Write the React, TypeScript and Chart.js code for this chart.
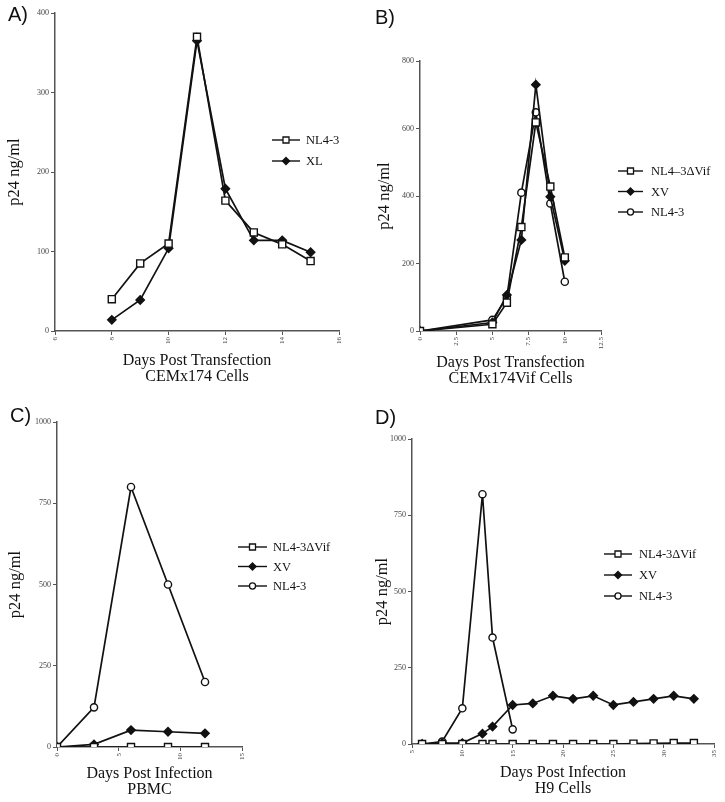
import React, { useEffect, useRef } from 'react';
import { Chart, registerables } from 'chart.js';
Chart.register(...registerables);

// ---------- Panel A ----------
const aDays = [8, 9, 10, 11, 12, 13, 14, 15];
const aNL43 = [40, 85, 110, 370, 164, 124, 109, 88];
const aXL = [14, 39, 104, 365, 179, 114, 114, 99];
const aXTicks = [6, 8, 10, 12, 14, 16];
const aYTicks = [0, 100, 200, 300, 400];

// ---------- Panel B ----------
const bDays = [0, 5, 6, 7, 8, 9, 10];
const bDVif = [0, 20, 84, 308, 618, 428, 218];
const bXV = [0, 25, 107, 270, 730, 398, 208];
const bNL43 = [0, 33, 100, 410, 648, 378, 146];
const bXTicks = [0, 2.5, 5, 7.5, 10, 12.5];
const bYTicks = [0, 200, 400, 600, 800];

// ---------- Panel C ----------
const cDays = [0, 3, 6, 9, 12];
const cDVif = [0, 0, 0, 0, 0];
const cXV = [0, 8, 52, 47, 42];
const cNL43 = [0, 122, 800, 500, 200];
const cXTicks = [0, 5, 10, 15];
const cYTicks = [0, 250, 500, 750, 1000];

// ---------- Panel D ----------
const dDays = [6, 8, 10, 12, 13, 15, 17, 19, 21, 23, 25, 27, 29, 31, 33];
const dDVif = [0, 0, 0, 0, 0, 0, 0, 0, 0, 0, 0, 1, 2, 3, 3];
const dXV = [0, 3, 3, 34, 57, 128, 133, 158, 148, 158, 128, 138, 148, 158, 148];
const dDaysNL = [6, 8, 10, 12, 13, 15];
const dNL43 = [0, 8, 117, 819, 349, 48];
const dXTicks = [5, 10, 15, 20, 25, 30, 35];
const dYTicks = [0, 250, 500, 750, 1000];

const SERIF = '"Liberation Serif", "Times New Roman", Times, serif';
const INK = '#111';
const AXIS = '#555';

function pts(xs: number[], ys: number[]) {
  return xs.map((x, i) => ({ x, y: ys[i] }));
}

type Kind = 'square' | 'diamond' | 'circle';
function series(label: string, xs: number[], ys: number[], kind: Kind) {
  const style = kind === 'square' ? 'rect' : kind === 'diamond' ? 'rectRot' : 'circle';
  const radius = kind === 'square' ? 5 : kind === 'diamond' ? 4.2 : 3.6;
  const fill = kind === 'diamond' ? INK : '#fff';
  return {
    label,
    data: pts(xs, ys),
    borderColor: INK,
    borderWidth: 1.7,
    pointStyle: style,
    pointRadius: radius,
    pointBackgroundColor: fill,
    pointBorderColor: INK,
    pointBorderWidth: 1.4,
    tension: 0,
    fill: false,
  };
}

function drawMarker(ctx: CanvasRenderingContext2D, style: string, x: number, y: number, r: number, fill: string) {
  ctx.beginPath();
  if (style === 'rect') {
    const s = Math.SQRT1_2 * r;
    ctx.rect(x - s, y - s, 2 * s, 2 * s);
  } else if (style === 'rectRot') {
    ctx.moveTo(x, y - r);
    ctx.lineTo(x + r, y);
    ctx.lineTo(x, y + r);
    ctx.lineTo(x - r, y);
    ctx.closePath();
  } else {
    ctx.arc(x, y, r, 0, Math.PI * 2);
  }
  ctx.fillStyle = fill;
  ctx.fill();
  ctx.lineWidth = 1.3;
  ctx.strokeStyle = INK;
  ctx.stroke();
}

const legendPlugin = {
  id: 'panelLegend',
  afterDraw(chart: any, _args: any, opts: any) {
    const ctx = chart.ctx as CanvasRenderingContext2D;
    chart.data.datasets.forEach((ds: any, i: number) => {
      const yy = opts.y + i * opts.gap;
      ctx.save();
      ctx.strokeStyle = INK;
      ctx.lineWidth = 1.4;
      ctx.beginPath();
      ctx.moveTo(opts.x, yy);
      ctx.lineTo(opts.x + opts.len, yy);
      ctx.stroke();
      drawMarker(ctx, ds.pointStyle, opts.x + opts.len / 2, yy, ds.pointRadius * 0.85, ds.pointBackgroundColor);
      ctx.fillStyle = INK;
      ctx.font = `${opts.size}px ${SERIF}`;
      ctx.textBaseline = 'middle';
      ctx.textAlign = 'left';
      ctx.fillText(ds.label, opts.x + opts.len + opts.textGap, yy + 1);
      ctx.restore();
    });
  },
};

interface Layout {
  left: number; top: number; w: number; h: number;
  padTop: number; padRight: number; yW: number; xH: number;
  yTitlePad: number; xTitlePad: number;
  legend: { x: number; y: number; gap: number; len: number; textGap: number; size: number };
}

interface Panel {
  letter: string;
  letterPos: { left: number; top: number };
  datasets: any[];
  xTicks: number[];
  yTicks: number[];
  xTitle: string[];
  layout: Layout;
}

const panels: Panel[] = [
  {
    letter: 'A)',
    letterPos: { left: 8, top: 4 },
    datasets: [series('NL4-3', aDays, aNL43, 'square'), series('XL', aDays, aXL, 'diamond')],
    xTicks: aXTicks,
    yTicks: aYTicks,
    xTitle: ['Days Post Transfection', 'CEMx174 Cells'],
    layout: {
      left: 0, top: 0, w: 362, h: 400, padTop: 13, padRight: 23, yW: 55, xH: 69,
      yTitlePad: 6, xTitlePad: 15,
      legend: { x: 272, y: 140, gap: 21, len: 28, textGap: 6, size: 12.5 },
    },
  },
  {
    letter: 'B)',
    letterPos: { left: 375, top: 7 },
    datasets: [
      series('NL4\u20133\u0394Vif', bDays, bDVif, 'square'),
      series('XV', bDays, bXV, 'diamond'),
      series('NL4-3', bDays, bNL43, 'circle'),
    ],
    xTicks: bXTicks,
    yTicks: bYTicks,
    xTitle: ['Days Post Transfection', 'CEMx174Vif Cells'],
    layout: {
      left: 362, top: 0, w: 363, h: 400, padTop: 61, padRight: 124, yW: 58, xH: 69,
      yTitlePad: 14, xTitlePad: 13,
      legend: { x: 256, y: 171, gap: 20.5, len: 25, textGap: 8, size: 12.5 },
    },
  },
  {
    letter: 'C)',
    letterPos: { left: 10, top: 405 },
    datasets: [
      series('NL4-3\u0394Vif', cDays, cDVif, 'square'),
      series('XV', cDays, cXV, 'diamond'),
      series('NL4-3', cDays, cNL43, 'circle'),
    ],
    xTicks: cXTicks,
    yTicks: cYTicks,
    xTitle: ['Days Post Infection', 'PBMC'],
    layout: {
      left: 0, top: 400, w: 362, h: 402, padTop: 22, padRight: 120, yW: 57, xH: 55,
      yTitlePad: 7, xTitlePad: 4,
      legend: { x: 238, y: 147, gap: 19.5, len: 29, textGap: 6, size: 12.5 },
    },
  },
  {
    letter: 'D)',
    letterPos: { left: 375, top: 407 },
    datasets: [
      series('NL4-3\u0394Vif', dDays, dDVif, 'square'),
      series('XV', dDays, dXV, 'diamond'),
      series('NL4-3', dDaysNL, dNL43, 'circle'),
    ],
    xTicks: dXTicks,
    yTicks: dYTicks,
    xTitle: ['Days Post Infection', 'H9 Cells'],
    layout: {
      left: 362, top: 400, w: 363, h: 402, padTop: 39, padRight: 11, yW: 50, xH: 58,
      yTitlePad: 12, xTitlePad: 5,
      legend: { x: 242, y: 154, gap: 21, len: 28, textGap: 7, size: 12.5 },
    },
  },
];

function buildConfig(p: Panel): any {
  const L = p.layout;
  const axisCommon = {
    border: { display: true, color: AXIS, width: 1.5 },
    grid: { display: true, drawOnChartArea: false, drawTicks: true, tickLength: 4, tickColor: AXIS, lineWidth: 1 },
  };
  return {
    type: 'line',
    data: { datasets: p.datasets },
    plugins: [legendPlugin],
    options: {
      responsive: false,
      animation: false,
      events: [],
      layout: { padding: { left: 0, top: L.padTop, right: L.padRight, bottom: 0 } },
      plugins: {
        legend: { display: false },
        tooltip: { enabled: false },
        panelLegend: L.legend,
      },
      scales: {
        x: {
          ...axisCommon,
          type: 'linear',
          min: p.xTicks[0],
          max: p.xTicks[p.xTicks.length - 1],
          afterBuildTicks: (s: any) => { s.ticks = p.xTicks.map((v) => ({ value: v })); },
          afterFit: (s: any) => { s.height = L.xH; },
          ticks: {
            autoSkip: false,
            minRotation: 90,
            maxRotation: 90,
            padding: 2,
            color: '#444',
            font: { family: SERIF, size: 7 },
            callback: (v: any) => String(v),
          },
          title: {
            display: true,
            text: p.xTitle,
            color: INK,
            font: { family: SERIF, size: 16, lineHeight: '16px' },
            padding: { top: 0, bottom: L.xTitlePad },
          },
        },
        y: {
          ...axisCommon,
          type: 'linear',
          min: p.yTicks[0],
          max: p.yTicks[p.yTicks.length - 1],
          afterBuildTicks: (s: any) => { s.ticks = p.yTicks.map((v) => ({ value: v })); },
          afterFit: (s: any) => { s.width = L.yW; },
          ticks: {
            padding: 2,
            color: '#444',
            font: { family: SERIF, size: 8 },
            callback: (v: any) => String(v),
          },
          title: {
            display: true,
            text: 'p24 ng/ml',
            color: INK,
            font: { family: SERIF, size: 16.5, lineHeight: '18px' },
            padding: { top: L.yTitlePad, bottom: 0 },
          },
        },
      },
    },
  };
}

function PanelChart({ p }: { p: Panel }) {
  const ref = useRef<HTMLCanvasElement | null>(null);
  useEffect(() => {
    if (!ref.current) return;
    const chart = new Chart(ref.current, buildConfig(p));
    return () => chart.destroy();
  }, [p]);
  const L = p.layout;
  return (
    <>
      <canvas
        ref={ref}
        width={L.w}
        height={L.h}
        style={{ position: 'absolute', left: L.left, top: L.top, width: L.w, height: L.h }}
      />
      <div
        style={{
          position: 'absolute',
          left: p.letterPos.left,
          top: p.letterPos.top,
          fontFamily: '"Liberation Sans", Arial, sans-serif',
          fontSize: 20,
          lineHeight: '20px',
          color: INK,
        }}
      >
        {p.letter}
      </div>
    </>
  );
}

export default function App() {
  return (
    <div style={{ position: 'absolute', left: 0, top: 0, width: 725, height: 802, background: '#fff', overflow: 'hidden' }}>
      {panels.map((p) => (
        <PanelChart key={p.letter} p={p} />
      ))}
    </div>
  );
}
